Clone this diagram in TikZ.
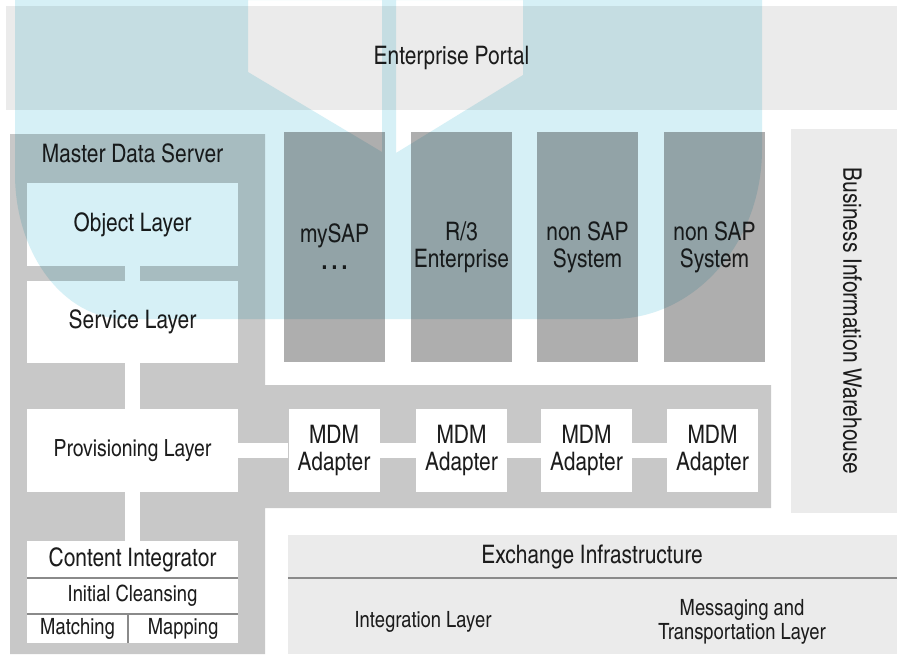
\documentclass[tikz,border=0pt]{standalone}
\usepackage{fontspec}
\setmainfont{texgyreheroscn}[Extension=.otf, UprightFont=*-regular, BoldFont=*-bold]
\usetikzlibrary{positioning}
\definecolor{bandgray}{HTML}{EBEBEB}
\definecolor{mdsgray}{HTML}{C8C8C8}
\definecolor{sysgray}{HTML}{AEAEAE}
\definecolor{rulegray}{HTML}{8A8A8A}
\definecolor{veil}{HTML}{D6F0F6}
\definecolor{ink}{HTML}{1C1C1C}
\newcommand{\bigtxt}{\fontsize{25.5}{27}\selectfont}
\newcommand{\smalltxt}{\fontsize{22.4}{23.5}\selectfont}

\begin{document}
\begin{tikzpicture}[
    x=1pt, y=-1pt,
    font=\bigtxt, text=ink,
    box/.style={rectangle, inner sep=0pt, align=center, draw=none},
    band/.style={box, fill=bandgray},
    layer/.style={box, fill=white, minimum width=211, minimum height=83},
    sysbox/.style={box, fill=sysgray, minimum width=101, minimum height=230},
    adapter/.style={box, fill=white, minimum width=91, minimum height=83},
    link/.style={draw=white, line width=15.5pt},
    rule/.style={draw=rulegray, line width=1.2pt},
    small/.style={box, font=\smalltxt}
]
\fill[white] (0,0) rectangle (897,654);
\useasboundingbox (0,0) rectangle (897,654);

% Portal band
\node[band, minimum width=891, minimum height=104] (portal) at (451.5,58) {Enterprise Portal};

% Master data server area
\fill[mdsgray] (10,134) -- (265,134) -- (265,385) -- (771,385) -- (771,508)
    -- (265,508) -- (265,654) -- (10,654) -- cycle;
\node (mds) at (132.5,153) {Master Data Server};

% Systems
\node[sysbox] (mysap)   at (334.5,247) {mySAP\\\textbf{.\,.\,.}};
\node[sysbox] (rthree)  at (461.5,247) {R/3\\Enterprise};
\node[sysbox] (nonsapA) at (587.5,247) {non SAP\\System};
\node[sysbox] (nonsapB) at (714.5,247) {non SAP\\System};

% Business warehouse
\node[band, minimum width=106, minimum height=384] (biw) at (844,321) {};
\node[rotate=-90] (biwtxt) at (852.5,321) {Business Information Warehouse};

% Layers
\node[layer] (obj) at (132.5,224.5) {Object Layer};
\node[layer, minimum height=82] (svc) at (132.5,322) {Service Layer};
\node[layer, font=\fontsize{23.6}{25}\selectfont] (prov) at (132.5,450.5) {Provisioning Layer};

\foreach \i/\x in {1/334,2/461.5,3/586.5,4/712.5}
    \node[adapter] (ad\i) at (\x,450.5) {MDM\\Adapter};

% Content integrator
\node[layer, minimum height=102] (ci) at (132.5,592) {};
\node (cihead) at (132.5,559.5) {Content Integrator};
\node[small] (clean) at (132.5,596) {Initial Cleansing};
\node[small] (match) at (77.5,628.5) {Matching};
\node[small] (map) at (183,628.5) {Mapping};
\draw[rule] (ci.west |- 0,578) -- (ci.east |- 0,578);
\draw[rule] (ci.west |- 0,614) -- (ci.east |- 0,614);
\draw[rule] (128,614) -- (ci.south -| 128,0);

% Exchange infrastructure
\node[band, minimum width=609, minimum height=119] (ei) at (592.5,594.5) {};
\node (eihead) at (592,557) {Exchange Infrastructure};
\draw[rule, line width=1.6pt] (ei.west |- 0,578) -- (ei.east |- 0,578);
\node[small] (integ) at (423,622) {Integration Layer};
\node[small] (msg) at (742,622) {Messaging and\\Transportation Layer};

% White links
\draw[link] (obj.south) -- (svc.north);
\draw[link] (svc.south) -- (prov.north);
\draw[link] (prov.south) -- (ci.north);
\draw[link] (prov.east) -- (ad1.west);
\foreach \a/\b in {1/2,2/3,3/4}
    \draw[link] (ad\a.east) -- (ad\b.west);

% Cyan veil with arrow cut out
\begin{scope}[blend mode=multiply]
\fill[veil, even odd rule] (15,0) -- (15,174) .. controls (15,254) and (64,319) .. (125,319)
    -- (612,319) .. controls (695,319) and (762,243) .. (762,149) -- (762,0) -- cycle
    (248,0) -- (248,72) -- (382,152) -- (382,0) -- cycle
    (396,0) -- (396,153) -- (523,75) -- (523,0) -- cycle;
\end{scope}

\end{tikzpicture}
\end{document}
